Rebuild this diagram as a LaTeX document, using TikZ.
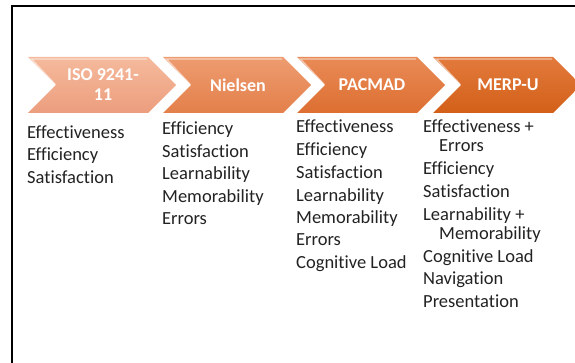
\documentclass[tikz,border=0pt]{standalone}
\usepackage{fontspec}
\setmainfont[Ligatures={NoCommon,NoContextual}]{Carlito}
\definecolor{isoTop}{HTML}{F5BA9C}
\definecolor{isoBot}{HTML}{EC9E7E}
\definecolor{nieTop}{HTML}{EE9C71}
\definecolor{nieBot}{HTML}{E3804A}
\definecolor{pacTop}{HTML}{E98B57}
\definecolor{pacBot}{HTML}{DD6F31}
\definecolor{merTop}{HTML}{E27A3D}
\definecolor{merBot}{HTML}{D36018}
\definecolor{bodytext}{HTML}{222222}
% chevron with its top-left corner at x=#1, shaded from #2 (top) to #3 (bottom)
\newcommand\chevshape[3]{%
  \shade[top color=#2, bottom color=#3]
    (#1,57) -- ++(120,0) -- ++(28,28) -- ++(-28,28) -- ++(-120,0) -- ++(28,-28) -- cycle;
  \draw[white, opacity=.55, line width=1.2pt, line join=miter]
    (#1+27,84) -- (#1+3.5,59) -- (#1+119,59);
}
\begin{document}
\begin{tikzpicture}[x=1pt, y=-1pt,
  stage/.style={text=white, font=\bfseries\fontsize{18}{20}\selectfont, align=center, inner sep=0},
  item/.style={anchor=base west, inner sep=0, text=bodytext, font=\fontsize{18.5}{22}\selectfont}]
\useasboundingbox (0,0) rectangle (575,363);
\begin{scope}
  \clip (0,0) rectangle (575,363);
  \chevshape{28}{isoTop}{isoBot}
  \chevshape{163}{nieTop}{nieBot}
  \chevshape{297}{pacTop}{pacBot}
  \chevshape{433}{merTop}{merBot}
\end{scope}
% frame
\draw[line width=2pt] (12,363) -- (12,6) -- (575,6);
% stage labels
\node[stage] (iso) at (103,85) {ISO 9241-\\11};
\node[stage] (nie) at (238,85) {Nielsen};
\node[stage] (pac) at (372,85) {PACMAD};
\node[stage] (mer) at (508,85) {MERP-U};
% ISO 9241-11
\node[item] (a1) at (27,139) {Effectiveness};
\node[item] (a2) at (27,161) {Efficiency};
\node[item] (a3) at (27,184) {Satisfaction};
% Nielsen
\node[item] (b1) at (162,135) {Efficiency};
\node[item] (b2) at (162,157.5) {Satisfaction};
\node[item] (b3) at (162,180) {Learnability};
\node[item] (b4) at (162,202.5) {Memorability};
\node[item] (b5) at (162,225) {Errors};
% PACMAD
\node[item] (c1) at (296,133) {Effectiveness};
\node[item] (c2) at (296,156) {Efficiency};
\node[item] (c3) at (296,178.5) {Satisfaction};
\node[item] (c4) at (296,201.5) {Learnability};
\node[item] (c5) at (296,223.5) {Memorability};
\node[item] (c6) at (296,246) {Errors};
\node[item] (c7) at (296,269) {Cognitive Load};
% MERP-U
\node[item] (d1) at (423,133) {Effectiveness +};
\node[item] (d1b) at (439,152) {Errors};
\node[item] (d2) at (423,175) {Efficiency};
\node[item] (d3) at (423,198) {Satisfaction};
\node[item] (d4) at (423,221) {Learnability +};
\node[item] (d4b) at (439,240) {Memorability};
\node[item] (d5) at (423,262) {Cognitive Load};
\node[item] (d6) at (423,284) {Navigation};
\node[item] (d7) at (423,307) {Presentation};
\end{tikzpicture}
\end{document}
